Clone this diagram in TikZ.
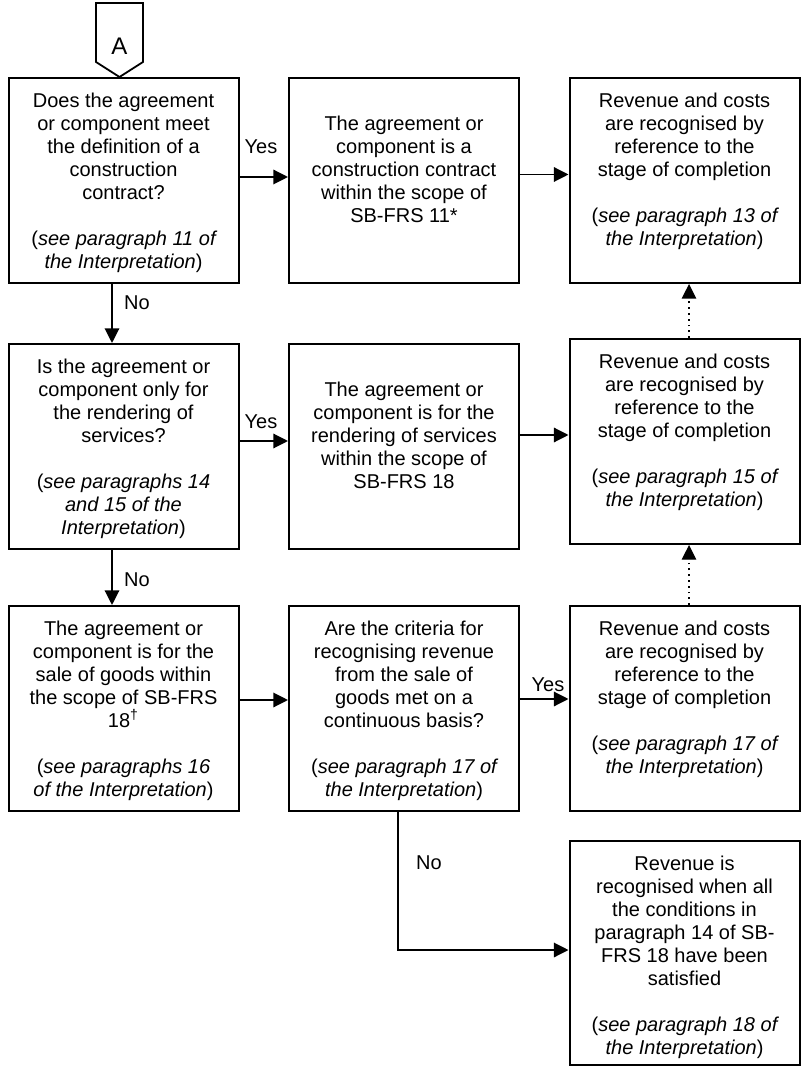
\documentclass[tikz,border=0pt]{standalone}
\usepackage{fontspec}
\setmainfont{Liberation Sans}
\usetikzlibrary{arrows.meta,positioning}
\newcommand{\boxfont}{\fontsize{10}{11.5}\selectfont}
\newcommand{\seepar}[1]{(\textit{#1})}

\begin{document}
\begin{tikzpicture}[
  x=0.5pt, y=-0.5pt,
  stepbox/.style={rectangle, draw=black, line width=1pt,
                minimum width=115pt, minimum height=#1,
                inner xsep=2.5pt, inner ysep=6.5pt,
                execute at begin node={\begin{minipage}[c][\dimexpr#1-13pt\relax][t]{110pt}\boxfont\centering\strut},
                execute at end node={\end{minipage}}},
  stepbox/.default=102.5pt,
  arr/.style={-{Triangle[length=7.3pt,width=7.2pt]}, line width=0.9pt},
  dots/.style={arr, dotted, line width=0.6pt},
  lbl/.style={font=\boxfont, inner sep=0pt}
]
  \useasboundingbox (0,0) rectangle (801,1068);

  % Off-page connector
  \node[lbl, font=\fontsize{12}{14}\selectfont] (conA) at (119.5,46) {A};
  \draw[line width=0.9pt] (conA.center) ++(-23.5,-43) -- ++(47,0) -- ++(0,59)
    -- ++(-23.5,15) -- ++(-23.5,-15) -- cycle;

  % Row 1
  \node[stepbox] (q1) at (123.5,180.5)
    {Does the agreement\\or component meet\\the definition of a\\construction\\contract?\\[\baselineskip]\seepar{see paragraph 11 of\\the Interpretation}};
  \node[stepbox] (s1) at (404,180.5)
    {\\The agreement or\\component is a\\construction contract\\within the scope of\\SB-FRS 11*};
  \node[stepbox] (r1) at (684.5,180.5)
    {Revenue and costs\\are recognised by\\reference to the\\stage of completion\\[\baselineskip]\seepar{see paragraph 13 of\\the Interpretation}};

  % Row 2
  \node[stepbox] (q2) at (123.5,446.5)
    {Is the agreement or\\component only for\\the rendering of\\services?\\[\baselineskip]\seepar{see paragraphs 14\\and 15 of the\\Interpretation}};
  \node[stepbox] (s2) at (404,446.5)
    {\\The agreement or\\component is for the\\rendering of services\\within the scope of\\SB-FRS 18};
  \node[stepbox] (r2) at (684.5,441.5)
    {Revenue and costs\\are recognised by\\reference to the\\stage of completion\\[\baselineskip]\seepar{see paragraph 15 of\\the Interpretation}};

  % Row 3
  \node[stepbox] (g3) at (123.5,708.5)
    {The agreement or\\component is for the\\sale of goods within\\the scope of SB-FRS\\18\textsuperscript{†}\\[\baselineskip]\seepar{see paragraphs 16\\of the Interpretation}};
  \node[stepbox] (c3) at (404,708.5)
    {Are the criteria for\\recognising revenue\\from the sale of\\goods met on a\\continuous basis?\\[\baselineskip]\seepar{see paragraph 17 of\\the Interpretation}};
  \node[stepbox] (r3) at (684.5,708.5)
    {Revenue and costs\\are recognised by\\reference to the\\stage of completion\\[\baselineskip]\seepar{see paragraph 17 of\\the Interpretation}};

  % Row 4
  \node[stepbox=112pt] (r4) at (684.5,953)
    {Revenue is\\recognised when all\\the conditions in\\paragraph 14 of SB-\\FRS 18 have been\\satisfied\\[\baselineskip]\seepar{see paragraph 18 of\\the Interpretation}};

  % Yes branches
  \draw[arr] ([yshift=1.75pt]q1.east) -- ([yshift=1.75pt]s1.west);
  \draw[arr] ([yshift=3pt]s1.east) -- ([yshift=3pt]r1.west);
  \draw[arr] ([yshift=2.75pt]q2.east) -- ([yshift=2.75pt]s2.west);
  \draw[arr] ([yshift=5.75pt]s2.east) -- ([yshift=3.25pt]r2.west);
  \draw[arr] ([yshift=4.25pt]g3.east) -- ([yshift=4.25pt]c3.west);
  \draw[arr] ([yshift=4.75pt]c3.east) -- ([yshift=4.75pt]r3.west);

  % No branches
  \draw[arr] ([xshift=-5.75pt]q1.south) -- ([xshift=-5.75pt]q2.north);
  \draw[arr] ([xshift=-5.75pt]q2.south) -- ([xshift=-5.75pt]g3.north);
  \draw[arr] ([xshift=-3pt]c3.south) |- ([yshift=1.5pt]r4.west);

  \foreach \a/\b in {r2/r1, r3/r2}
    \draw[dots] ([xshift=2.25pt]\a.north) -- ([xshift=2.25pt]\b.south);

  % Branch labels
  \node[lbl] (yes1) at (261,147) {Yes};
  \node[lbl] (yes2) at (261,422) {Yes};
  \node[lbl] (yes3) at (548,685) {Yes};
  \node[lbl] (no1) at (137,303) {No};
  \node[lbl] (no2) at (137,580) {No};
  \node[lbl] (no3) at (429,863) {No};
\end{tikzpicture}
\end{document}
